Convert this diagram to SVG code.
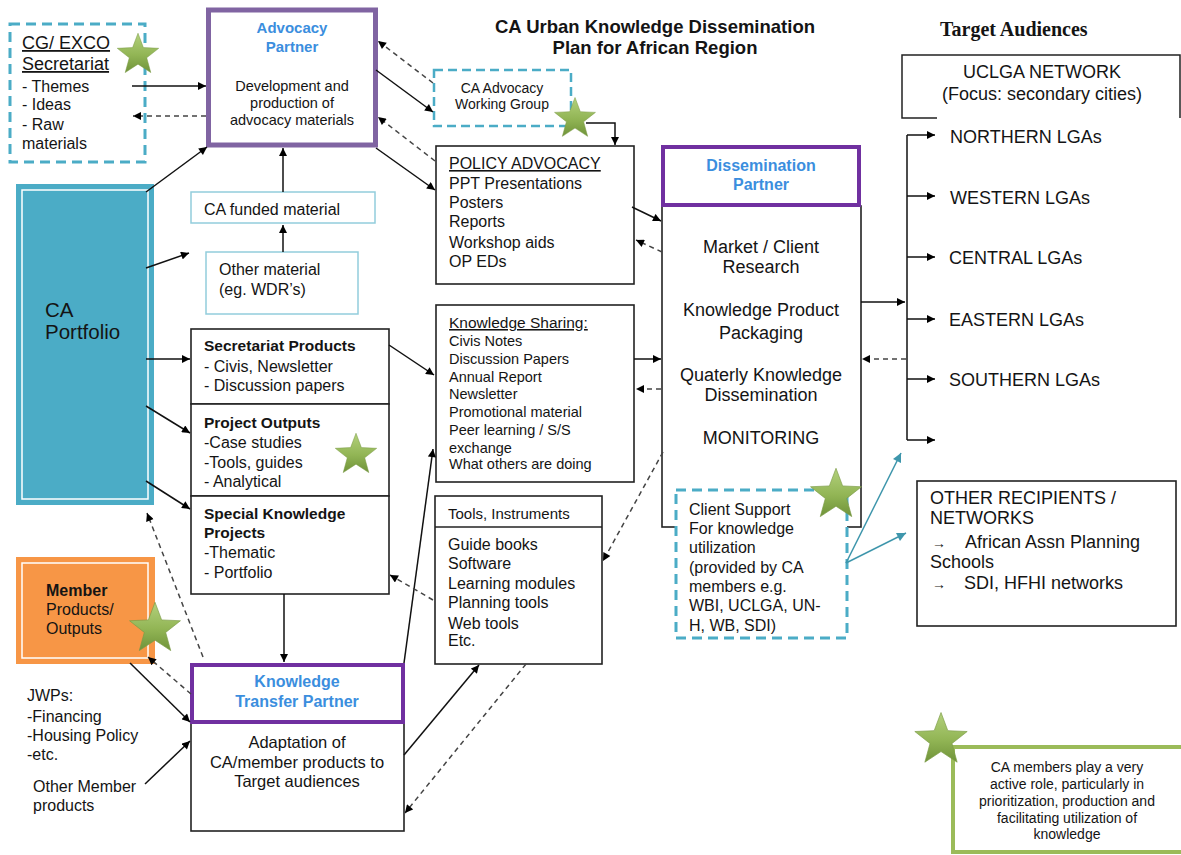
<svg xmlns="http://www.w3.org/2000/svg" width="1181" height="855" viewBox="0 0 1181 855">
<style>
text{font-family:"Liberation Sans",Arial,sans-serif;fill:#141414}
.t16{font-size:16px}
.t15{font-size:15px}
.b{font-weight:bold}
.blue{fill:#3B8EDE;font-weight:bold}
.c{text-anchor:middle}
.box{fill:#fff;stroke:#222;stroke-width:1.6}
.tealdash{fill:#fff;stroke:#4BACC6;stroke-width:3;stroke-dasharray:10 6}
.purple{fill:#fff;stroke:#7030A0;stroke-width:4}
.lteal{fill:#fff;stroke:#92CDDC;stroke-width:1.5}
.sol{fill:none;stroke:#111;stroke-width:1.5;marker-end:url(#ah)}
.dsh{fill:none;stroke:#444;stroke-width:1.5;stroke-dasharray:5 4;marker-end:url(#ah)}
.tl{fill:none;stroke:#3E96AC;stroke-width:1.5;marker-end:url(#aht)}
.ln{fill:none;stroke:#111;stroke-width:1.5}
</style>
<defs>
<marker id="ah" viewBox="0 0 10 10" refX="10" refY="5" markerWidth="9" markerHeight="8" markerUnits="userSpaceOnUse" orient="auto"><path d="M0,0 L10,5 L0,10 z" fill="#000"/></marker>
<marker id="aht" viewBox="0 0 10 10" refX="10" refY="5" markerWidth="10" markerHeight="9" markerUnits="userSpaceOnUse" orient="auto"><path d="M0,0 L10,5 L0,10 z" fill="#3E96AC"/></marker>
<linearGradient id="sg" x1="0" y1="0" x2="0" y2="1">
<stop offset="0" stop-color="#B3D17C"/>
<stop offset="0.55" stop-color="#92B555"/>
<stop offset="1" stop-color="#6F9339"/>
</linearGradient>
<path id="star" d="M0,-25 L6.2,-8.5 L23.8,-7.7 L10,3.2 L14.7,20.2 L0,10.5 L-14.7,20.2 L-10,3.2 L-23.8,-7.7 L-6.2,-8.5 Z" fill="url(#sg)" stroke="#7A9A45" stroke-width="0.6"/>
</defs>

<rect width="1181" height="855" fill="#fff"/>

<g id="title">
<text class="b c" x="655" y="33" style="font-size:18.5px">CA Urban Knowledge Dissemination</text>
<text class="b c" x="655" y="54" style="font-size:18.5px">Plan for African Region</text>
</g>

<g id="cg-exco">
<rect class="tealdash" x="10" y="24" width="135" height="138"/>
<text x="22" y="49" style="font-size:18px;text-decoration:underline">CG/ EXCO</text>
<text x="22" y="70" style="font-size:18px;text-decoration:underline">Secretariat</text>
<text class="t16" x="22" y="92">- Themes</text>
<text class="t16" x="22" y="110">- Ideas</text>
<text class="t16" x="22" y="130">- Raw</text>
<text class="t16" x="22" y="149">materials</text>
</g>

<g id="advocacy-partner">
<rect x="208.5" y="10" width="167" height="135" fill="#fff" stroke="#8064A2" stroke-width="5"/>
<text class="blue c" x="292" y="33" style="font-size:15px">Advocacy</text>
<text class="blue c" x="292" y="52" style="font-size:15px">Partner</text>
<text class="c" x="292" y="91" style="font-size:14.5px">Development and</text>
<text class="c" x="292" y="108" style="font-size:14.5px">production of</text>
<text class="c" x="292" y="125" style="font-size:14.5px">advocacy materials</text>
</g>

<g id="working-group">
<rect x="434" y="70" width="137" height="56" fill="#fff" stroke="#4BACC6" stroke-width="2.5" stroke-dasharray="9 5"/>
<text class="c" x="502" y="93" style="font-size:14px">CA Advocacy</text>
<text class="c" x="502" y="109" style="font-size:14px">Working Group</text>
</g>

<g id="target-title">
<text x="940" y="36" style="font-family:'Liberation Serif','Times New Roman',serif;font-weight:bold;font-size:20px">Target Audiences</text>
</g>

<g id="uclga">
<path d="M937,118 H902 V55 H1180 V118" fill="none" stroke="#222" stroke-width="1.5"/>
<text class="c" x="1042" y="78" style="font-size:18px">UCLGA NETWORK</text>
<text class="c" x="1042" y="100" style="font-size:18px">(Focus: secondary cities)</text>
</g>

<g id="lgas">
<text x="950" y="143" style="font-size:18px">NORTHERN LGAs</text>
<text x="950" y="204" style="font-size:18px">WESTERN LGAs</text>
<text x="949" y="264" style="font-size:18px">CENTRAL LGAs</text>
<text x="949" y="326" style="font-size:18px">EASTERN LGAs</text>
<text x="949" y="386" style="font-size:18px">SOUTHERN LGAs</text>
</g>

<g id="policy-advocacy">
<rect class="box" x="436" y="146" width="198" height="138"/>
<text class="t16" x="449" y="169" style="text-decoration:underline">POLICY ADVOCACY</text>
<text class="t16" x="449" y="189">PPT Presentations</text>
<text class="t16" x="449" y="208">Posters</text>
<text class="t16" x="449" y="227">Reports</text>
<text class="t16" x="449" y="248">Workshop aids</text>
<text class="t16" x="449" y="267">OP EDs</text>
</g>

<g id="knowledge-sharing">
<rect class="box" x="436" y="305" width="198" height="177"/>
<text x="449" y="328" style="font-size:15.5px;text-decoration:underline">Knowledge Sharing:</text>
<text x="449" y="346" style="font-size:14.5px">Civis Notes</text>
<text x="449" y="364" style="font-size:14.5px">Discussion Papers</text>
<text x="449" y="382" style="font-size:14.5px">Annual Report</text>
<text x="449" y="399" style="font-size:14.5px">Newsletter</text>
<text x="449" y="417" style="font-size:14.5px">Promotional material</text>
<text x="449" y="435" style="font-size:14.5px">Peer learning / S/S</text>
<text x="449" y="453" style="font-size:14.5px">exchange</text>
<text x="449" y="469" style="font-size:14.5px">What others are doing</text>
</g>

<g id="tools">
<rect class="box" x="435" y="496" width="167" height="168"/>
<line x1="435" y1="527" x2="602" y2="527" stroke="#222" stroke-width="1.6"/>
<text x="448" y="519" style="font-size:15px">Tools, Instruments</text>
<text class="t16" x="448" y="550">Guide books</text>
<text class="t16" x="448" y="569">Software</text>
<text class="t16" x="448" y="589">Learning modules</text>
<text class="t16" x="448" y="608">Planning tools</text>
<text class="t16" x="448" y="629">Web tools</text>
<text class="t16" x="448" y="646">Etc.</text>
</g>

<g id="dissemination-partner">
<rect class="box" x="662" y="206" width="199" height="321"/>
<rect class="purple" x="663" y="147" width="196" height="58"/>
<text class="blue c" x="761" y="171" style="font-size:16px">Dissemination</text>
<text class="blue c" x="761" y="190" style="font-size:16px">Partner</text>
<text class="c" x="761" y="253" style="font-size:18px">Market / Client</text>
<text class="c" x="761" y="273" style="font-size:18px">Research</text>
<text class="c" x="761" y="316" style="font-size:18px">Knowledge Product</text>
<text class="c" x="761" y="339" style="font-size:18px">Packaging</text>
<text class="c" x="761" y="381" style="font-size:18px">Quaterly Knowledge</text>
<text class="c" x="761" y="401" style="font-size:18px">Dissemination</text>
<text class="c" x="761" y="444" style="font-size:18px">MONITORING</text>
</g>

<g id="client-support">
<rect class="tealdash" x="676" y="490" width="171" height="148"/>
<text class="t16" x="689" y="515">Client Support</text>
<text class="t16" x="689" y="534">For knowledge</text>
<text class="t16" x="689" y="553">utilization</text>
<text class="t16" x="689" y="573">(provided by CA</text>
<text class="t16" x="689" y="592">members e.g.</text>
<text class="t16" x="689" y="611">WBI, UCLGA, UN-</text>
<text class="t16" x="689" y="631">H, WB, SDI)</text>
</g>

<g id="other-recipients">
<rect class="box" x="917" y="481" width="259" height="145"/>
<text x="930" y="504" style="font-size:18px">OTHER RECIPIENTS /</text>
<text x="930" y="524" style="font-size:18px">NETWORKS</text>
<text x="932" y="548" style="font-size:14px">→</text>
<text x="965" y="548" style="font-size:18px">African Assn Planning</text>
<text x="930" y="568" style="font-size:18px">Schools</text>
<text x="932" y="589" style="font-size:14px">→</text>
<text x="964" y="589" style="font-size:18px">SDI, HFHI networks</text>
</g>

<g id="ca-portfolio">
<rect x="16" y="184" width="138" height="321" fill="#4BACC6"/>
<rect x="22" y="190" width="126" height="309" fill="none" stroke="#fff" stroke-width="1.5"/>
<text x="45" y="317" style="font-size:20.5px">CA</text>
<text x="45" y="339" style="font-size:20.5px">Portfolio</text>
</g>

<g id="ca-funded">
<rect class="lteal" x="191" y="192" width="184" height="31"/>
<text class="t16" x="204" y="215">CA funded material</text>
</g>

<g id="other-material">
<rect class="lteal" x="206" y="252" width="152" height="62"/>
<text class="t16" x="219" y="275">Other material</text>
<text class="t16" x="219" y="295">(eg. WDR’s)</text>
</g>

<g id="secretariat-products">
<rect class="box" x="191" y="329" width="198" height="75"/>
<text class="b" x="204" y="351" style="font-size:15.5px">Secretariat Products</text>
<text class="t16" x="204" y="372">- Civis, Newsletter</text>
<text class="t16" x="204" y="391">- Discussion papers</text>
</g>

<g id="project-outputs">
<rect class="box" x="191" y="404" width="198" height="92"/>
<text class="b" x="204" y="428" style="font-size:15.5px">Project Outputs</text>
<text class="t16" x="204" y="448">-Case studies</text>
<text class="t16" x="204" y="468">-Tools, guides</text>
<text class="t16" x="204" y="487">- Analytical</text>
</g>

<g id="special-knowledge">
<rect class="box" x="191" y="496" width="198" height="98"/>
<text class="b" x="204" y="519" style="font-size:15.5px">Special Knowledge</text>
<text class="b" x="204" y="538" style="font-size:15.5px">Projects</text>
<text class="t16" x="204" y="558">-Thematic</text>
<text class="t16" x="204" y="578">- Portfolio</text>
</g>

<g id="member-products">
<rect x="16" y="557" width="139" height="107" fill="#F79646"/>
<rect x="22" y="563" width="126" height="95" fill="none" stroke="#fff" stroke-width="1.5"/>
<text class="b" x="46" y="596" style="font-size:16px">Member</text>
<text x="46" y="615" style="font-size:16px">Products/</text>
<text x="46" y="634" style="font-size:16px">Outputs</text>
</g>

<g id="jwps">
<text class="t16" x="27" y="701">JWPs:</text>
<text class="t16" x="27" y="722">-Financing</text>
<text class="t16" x="27" y="741">-Housing Policy</text>
<text class="t16" x="27" y="760">-etc.</text>
</g>

<g id="other-member">
<text class="t16" x="33" y="792">Other Member</text>
<text class="t16" x="33" y="811">products</text>
</g>

<g id="knowledge-transfer-partner">
<rect class="box" x="191" y="723" width="213" height="108"/>
<rect class="purple" x="192" y="665" width="211" height="57"/>
<text class="blue c" x="297" y="687" style="font-size:16px">Knowledge</text>
<text class="blue c" x="297" y="707" style="font-size:16px">Transfer Partner</text>
<text class="c" x="297" y="748" style="font-size:16.5px">Adaptation of</text>
<text class="c" x="297" y="768" style="font-size:16.5px">CA/member products to</text>
<text class="c" x="297" y="787" style="font-size:16.5px">Target audiences</text>
</g>

<g id="legend">
<rect x="953" y="747" width="232" height="105" fill="#fff" stroke="#9BBB59" stroke-width="4"/>
<text class="c" x="1067" y="772" style="font-size:14px">CA members play a very</text>
<text class="c" x="1067" y="789" style="font-size:14px">active role, particularly in</text>
<text class="c" x="1067" y="806" style="font-size:14px">prioritization, production and</text>
<text class="c" x="1067" y="823" style="font-size:14px">facilitating utilization of</text>
<text class="c" x="1067" y="839" style="font-size:14px">knowledge</text>
</g>

<g id="connectors">
<path class="sol" d="M132,86 L206,86"/>
<path class="dsh" d="M206,116 L133,116"/>
<path class="sol" d="M376,70 L433,112"/>
<path class="dsh" d="M433,83 L378,41"/>
<path class="sol" d="M376,148 L435,190"/>
<path class="dsh" d="M435,161 L378,117"/>
<path class="sol" d="M586,123 H615 V145"/>
<path class="sol" d="M283,192 L283,148"/>
<path class="sol" d="M283,252 L283,225"/>
<path class="sol" d="M146,192 L207,147"/>
<path class="sol" d="M146,268 L189,253"/>
<path class="sol" d="M146,359 L190,359"/>
<path class="sol" d="M146,406 L190,433"/>
<path class="sol" d="M146,481 L190,509"/>
<path class="sol" d="M389,345 L434,375"/>
<path class="sol" d="M284,594 L284,662"/>
<path class="sol" d="M404,663 L433,449"/>
<path class="dsh" d="M433,600 L390,575"/>
<path class="sol" d="M404,755 L479,665"/>
<path class="dsh" d="M526,664 L405,813"/>
<path class="dsh" d="M663,452 L603,561"/>
<path class="sol" d="M130,663 L190,722"/>
<path class="sol" d="M145,784 L190,741"/>
<path class="dsh" d="M191,694 L148,657"/>
<path class="dsh" d="M203,657 L147,513"/>
<path class="sol" d="M632,207 L661,221"/>
<path class="dsh" d="M662,252 L636,240"/>
<path class="sol" d="M634,359 L661,359"/>
<path class="dsh" d="M661,389 L636,389"/>
<path class="sol" d="M861,302 L905,302"/>
<path class="dsh" d="M906,359 L862,359"/>
<path class="ln" d="M907,135 V440"/>
<path class="sol" d="M907,135 L935,135"/>
<path class="sol" d="M907,196 L935,196"/>
<path class="sol" d="M907,257 L935,257"/>
<path class="sol" d="M907,319 L935,319"/>
<path class="sol" d="M907,379 L935,379"/>
<path class="sol" d="M907,440 L935,440"/>
<path class="tl" d="M846,563 L901,453"/>
<path class="tl" d="M846,563 L906,533"/>
</g>

<g id="stars">
<use href="#star" transform="translate(138,55) scale(0.87)"/>
<use href="#star" transform="translate(575,119) scale(0.86)"/>
<use href="#star" transform="translate(356,455) scale(0.87)"/>
<use href="#star" transform="translate(155,629) scale(1.07)"/>
<use href="#star" transform="translate(836,495) scale(1.07)"/>
<use href="#star" transform="translate(941,740) scale(1.1)"/>
</g>
</svg>
